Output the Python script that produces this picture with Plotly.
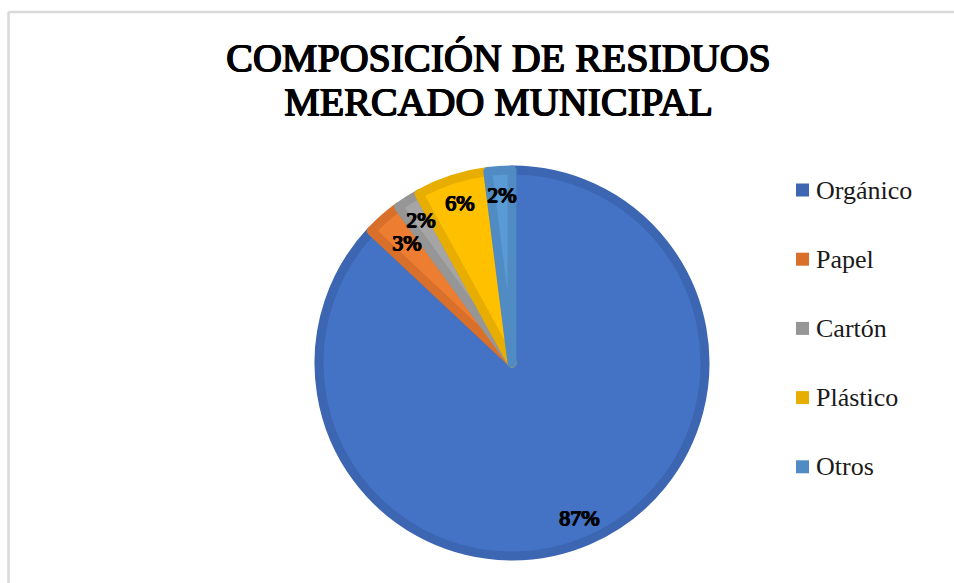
import math
import plotly.graph_objects as go

# Waste composition of the municipal market (percent of total)
categories = ["Orgánico", "Papel", "Cartón", "Plástico", "Otros"]
shares = [87, 3, 2, 6, 2]

title_lines = ["COMPOSICIÓN DE RESIDUOS", "MERCADO MUNICIPAL"]

fill_colors = ["#4472C4", "#ED7D31", "#A5A5A5", "#FFC000", "#5B9BD5"]
edge_colors = ["#3C65B2", "#D86F2A", "#969696", "#E7AD00", "#508CC3"]

W, H = 954, 583
SERIF = "Liberation Serif"
# heavier strokes for the serif face
HEAVY = "1px 0 0 #000, -0.5px 0 0 #000, 0 0.6px 0 #000, 0.6px 0.6px 0 #000"

# pie geometry in pixels
cx, cy, R = 512, 363, 193
# radial position of each percentage label (fraction of the radius)
label_r = [0.875, 0.83, 0.88, 0.875, 0.875]


def px(x):
    return x / W


def py(y):
    return 1 - y / H


fig = go.Figure()

fig.add_trace(go.Pie(
    labels=categories,
    values=shares,
    sort=False,
    direction="clockwise",
    rotation=0,
    textinfo="none",
    hoverinfo="label+percent",
    showlegend=False,
    marker=dict(colors=fill_colors, line=dict(color=edge_colors, width=9)),
    domain=dict(x=[px(cx - R), px(cx + R)], y=[py(cy + R), py(cy - R)]),
))

annotations = []

# chart title, one annotation per line
for line, ymid in zip(title_lines, [57, 101]):
    annotations.append(dict(
        x=px(499), y=py(ymid), xref="paper", yref="paper",
        text=line, showarrow=False,
        xanchor="center", yanchor="middle",
        font=dict(family=SERIF, size=40, color="#000000", shadow=HEAVY),
    ))

# percentage labels placed along each slice's bisector
total = sum(shares)
cum = 0
for v, rf in zip(shares, label_r):
    mid = (cum + v / 2) / total
    cum += v
    ang = 2 * math.pi * mid
    lx = cx + rf * R * math.sin(ang)
    ly = cy - rf * R * math.cos(ang)
    annotations.append(dict(
        x=px(lx), y=py(ly), xref="paper", yref="paper",
        text=f"{round(v / total * 100)}%", showarrow=False,
        xanchor="center", yanchor="middle", borderpad=0,
        font=dict(family=SERIF, size=22, color="#000000", shadow=HEAVY),
    ))

# legend: coloured squares with category names
shapes = []
leg_x, leg_y0, leg_step, sq = 802.5, 190, 69.2, 13
for i, (name, col) in enumerate(zip(categories, edge_colors)):
    yy = leg_y0 + i * leg_step
    shapes.append(dict(
        type="rect", xref="paper", yref="paper",
        x0=px(leg_x - sq / 2), x1=px(leg_x + sq / 2),
        y0=py(yy + sq / 2), y1=py(yy - sq / 2),
        fillcolor=col, line=dict(width=0),
    ))
    annotations.append(dict(
        x=px(814), y=py(yy), xref="paper", yref="paper",
        text=name, showarrow=False, xanchor="left", yanchor="middle",
        font=dict(family=SERIF, size=26, color="#1a1a1a"),
    ))

# chart frame (top and left edges)
frame = "#D9D9D9"
shapes.append(dict(type="line", xref="paper", yref="paper",
                   x0=px(8.5), x1=px(W + 10), y0=py(12), y1=py(12),
                   line=dict(color=frame, width=2.5)))
shapes.append(dict(type="line", xref="paper", yref="paper",
                   x0=px(8.5), x1=px(8.5), y0=py(12), y1=py(H + 10),
                   line=dict(color=frame, width=2.5)))

fig.update_layout(
    width=W, height=H,
    margin=dict(l=0, r=0, t=0, b=0),
    paper_bgcolor="white",
    plot_bgcolor="white",
    annotations=annotations,
    shapes=shapes,
)

fig.write_html("out.html")
